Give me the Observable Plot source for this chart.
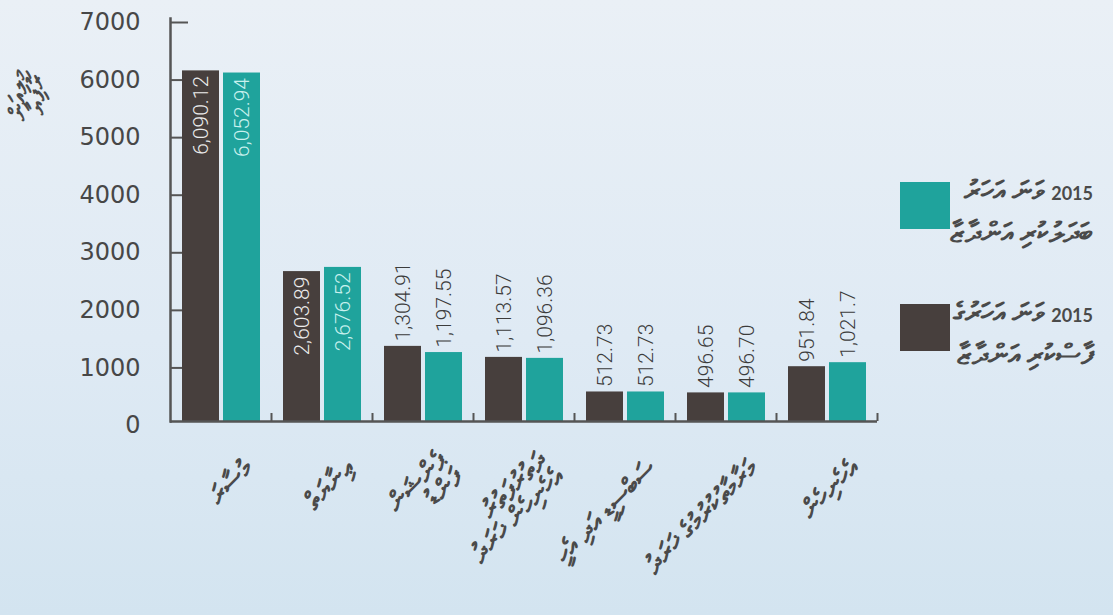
<!DOCTYPE html>
<html lang="dv">
<head>
<meta charset="utf-8">
<script src="https://cdn.jsdelivr.net/npm/d3@7"></script>
<script src="https://cdn.jsdelivr.net/npm/@observablehq/plot@0.6"></script>
<style>
  html, body { margin: 0; padding: 0; }
  body {
    width: 1113px; height: 615px; overflow: hidden; position: relative;
    background: linear-gradient(180deg, #eaf0f6 0%, #dfeaf4 55%, #d3e4f0 100%);
    font-family: "Noto Sans", "DejaVu Sans", sans-serif;
  }
  #chart { position: absolute; left: 0; top: 0; }
  .ytitle {
    position: absolute; left: 26px; top: 95px;
    transform: translate(-50%, -50%) rotate(-90deg);
    color: #4a4a4a; font-size: 24px; line-height: 18px; text-align: center; white-space: nowrap;
    font-weight: bold;
  }
  .legend { position: absolute; left: 900px; }
  .legend .sw { position: absolute; left: 0; width: 50px; height: 47px; }
  .legend .tx {
    position: absolute; right: -193px; width: 200px; text-align: right; direction: rtl;
    color: #4a4a4a; font-size: 28px; line-height: 38px; white-space: nowrap; font-weight: bold;
  }
  .legend .yr { font-size: 18px; font-family: "Lato", sans-serif; }
</style>
</head>
<body>
<div id="chart"></div>
<script>
// ---- data ----
const categories = [
  "މުސާރަ",
  "ޢިނާޔަތް",
  "ޕެންޝަން\nފަންޑު",
  "ދަތުރުފަތުރު\nއެހެނިހެން ޚަރަދު",
  "ސަބްސިޑީ އަދި އެހީ",
  "މަރާމާތުކުރުމުގެ ޚަރަދު",
  "އެހެނިހެން"
];
const seriesKeys = ["approved", "revised"];
const approvedValues = [6090.12, 2603.89, 1304.91, 1113.57, 512.73, 496.65, 951.84];
const revisedValues  = [6052.94, 2676.52, 1197.55, 1096.36, 512.73, 496.70, 1021.7];
const approvedLabels = ["6,090.12", "2,603.89", "1,304.91", "1,113.57", "512.73", "496.65", "951.84"];
const revisedLabels  = ["6,052.94", "2,676.52", "1,197.55", "1,096.36", "512.73", "496.70", "1,021.7"];
const yTicks = [0, 1000, 2000, 3000, 4000, 5000, 6000, 7000];
const legendYear = "2015";
const legendLines = {
  revised:  ["ވަނަ އަހަރު", "ބަދަލުކުރި އަންދާޒާ"],
  approved: ["ވަނަ އަހަރުގެ", "ފާސްކުރި އަންދާޒާ"]
};
const yTitle = ["މިލިއަން", "ރުފިޔާ"];

// ---- styles ----
const colors = { approved: "#473f3d", revised: "#1fa39c" };
const insideText = { approved: "#ececec", revised: "#c9f1ee" };

const data = [];
categories.forEach((c, i) => {
  data.push({ cat: c, series: "approved", value: approvedValues[i], label: approvedLabels[i] });
  data.push({ cat: c, series: "revised", value: revisedValues[i], label: revisedLabels[i] });
});
const insideThreshold = 2000;

const W = 1113, H = 615, ML = 170, MR = 236, MT = 18, MB = 194;
const band = (W - ML - MR) / categories.length;
const valueFont = { fontSize: 21, fontFamily: "Roboto", fontWeight: 300, style: "letter-spacing:3px" };
const yFont = { fontSize: 24, fontFamily: "DejaVu Sans", fill: "#474747", dy: 4 };

const chart = Plot.plot({
  width: W, height: H,
  marginLeft: ML, marginRight: MR, marginTop: MT, marginBottom: MB,
  style: { background: "transparent", overflow: "visible" },
  fx: { domain: categories, padding: 0, label: null },
  x: { domain: seriesKeys, paddingInner: 0.1, paddingOuter: 0.28, axis: null },
  y: { domain: [0, 7000], axis: null },
  color: { domain: seriesKeys, range: [colors.approved, colors.revised] },
  marks: [
    Plot.barY(data, { fx: "cat", x: "series", y: "value", fill: "series" }),
    Plot.text(data.filter(d => d.value >= insideThreshold), {
      fx: "cat", x: "series", y: "value", text: "label", rotate: -90,
      textAnchor: "end", dy: 5, fill: d => insideText[d.series], ...valueFont
    }),
    Plot.text(data.filter(d => d.value < insideThreshold), {
      fx: "cat", x: "series", y: "value", text: "label", rotate: -90,
      textAnchor: "start", dy: -5, fill: "#3c3c3c", ...valueFont
    }),
    Plot.ruleY([0], { stroke: "#555555", strokeWidth: 2.5 }),
    Plot.frame({ anchor: "left", facetAnchor: "left", stroke: "#555555", strokeWidth: 2.5 }),
    Plot.axisY(yTicks.filter(t => t > 0 && t < 7000), {
      anchor: "left", tickSize: -12, stroke: "#555555", strokeWidth: 2,
      tickPadding: 42, ...yFont, tickFormat: d => String(d), label: null
    }),
    Plot.axisY([0], {
      anchor: "left", tickSize: 0, tickPadding: 30, ...yFont,
      tickFormat: d => String(d), label: null
    }),
    Plot.axisY([7000], {
      anchor: "left", tickSize: -18, stroke: "#555555", strokeWidth: 2,
      tickPadding: 48, ...yFont, tickFormat: d => String(d), label: null
    }),
    Plot.axisFx({
      anchor: "bottom", tickSize: -8, dx: band / 2, stroke: "#555555", strokeWidth: 2,
      tickFormat: () => "", label: null
    }),
    Plot.axisFx({
      anchor: "bottom", tickSize: 0, tickRotate: -45, dx: 28, dy: 32,
      fontSize: 26, fontWeight: "bold", fill: "#4a4a4a", label: null, lineHeight: 0.9,
      fontFamily: "Noto Sans, DejaVu Sans, sans-serif"
    })
  ]
});
document.getElementById("chart").appendChild(chart);

// y title
const yt = document.createElement("div");
yt.className = "ytitle";
yt.innerHTML = yTitle.join("<br>");
document.body.appendChild(yt);

// legend
const legendItems = [
  { key: "revised", top: 182 },
  { key: "approved", top: 304 }
];
legendItems.forEach(item => {
  const lg = document.createElement("div");
  lg.className = "legend";
  lg.style.top = item.top + "px";
  const sw = document.createElement("div");
  sw.className = "sw";
  sw.style.background = colors[item.key];
  lg.appendChild(sw);
  const tx = document.createElement("div");
  tx.className = "tx";
  tx.style.top = "-12px";
  const l1 = document.createElement("div");
  const yr = document.createElement("span");
  yr.className = "yr";
  yr.textContent = legendYear;
  l1.appendChild(yr);
  l1.appendChild(document.createTextNode(" " + legendLines[item.key][0]));
  const l2 = document.createElement("div");
  l2.textContent = legendLines[item.key][1];
  tx.appendChild(l1);
  tx.appendChild(l2);
  lg.appendChild(tx);
  document.body.appendChild(lg);
});
</script>
</body>
</html>
